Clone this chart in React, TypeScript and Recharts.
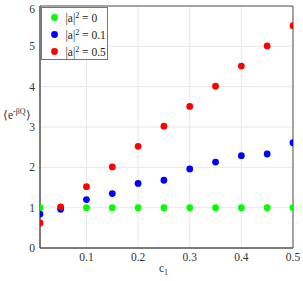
import { ScatterChart, Scatter, XAxis, YAxis, CartesianGrid, ReferenceArea } from "recharts";

const c1 = [0.01, 0.05, 0.1, 0.15, 0.2, 0.25, 0.3, 0.35, 0.4, 0.45, 0.5];
const zeroVals = [1, 1, 1, 1, 1, 1, 1, 1, 1, 1, 1];
const tenthVals = [0.84, 0.96, 1.2, 1.35, 1.6, 1.68, 1.96, 2.13, 2.29, 2.33, 2.61];
const halfVals = [0.62, 1.02, 1.52, 2.01, 2.52, 3.02, 3.51, 4.01, 4.51, 5.01, 5.51];
const xTicks = [0.1, 0.2, 0.3, 0.4, 0.5];
const yTicks = [0, 1, 2, 3, 4, 5, 6];

const series = [
  { name: "0", color: "#00ff00", vals: zeroVals },
  { name: "0.1", color: "#0000ff", vals: tenthVals },
  { name: "0.5", color: "#ff0000", vals: halfVals },
];

const font = "Times New Roman, Liberation Serif, Tinos, serif";

const toPoints = (vals: number[]) => c1.map((x, i) => ({ x, y: vals[i] }));

const Dot = (props: any) => <circle cx={props.cx} cy={props.cy} r={3.4} fill={props.fill} />;

const XTick = (props: any) => (
  <text x={props.x} y={props.y + 11} textAnchor="middle" fontSize={11.5} fill="#333" style={{ fontFamily: font }}>
    {props.payload.value}
  </text>
);

const YTick = (props: any) => (
  <text x={props.x - 3} y={props.y + 4} textAnchor="end" fontSize={11.5} fill="#333" style={{ fontFamily: font }}>
    {props.payload.value}
  </text>
);

export default function App() {
  return (
    <div style={{ position: "absolute", left: 0, top: 0, width: 303, height: 281, background: "#fff", fontFamily: font }}>
      <ScatterChart width={303} height={281} margin={{ top: 6, right: 10, bottom: 0, left: 0 }} style={{ fontFamily: font }}>
        <CartesianGrid stroke="#e8e8e8" />
        <XAxis
          type="number"
          dataKey="x"
          domain={[0.01, 0.5]}
          ticks={xTicks}
          height={33}
          stroke="#555"
          tickSize={0}
          tick={<XTick />}
          allowDataOverflow
        />
        <YAxis
          type="number"
          dataKey="y"
          domain={[0, 6]}
          ticks={yTicks}
          width={40}
          stroke="#555"
          tickSize={0}
          tick={<YTick />}
        />
        <ReferenceArea x1={0.01} x2={0.5} y1={0} y2={6} fill="none" stroke="#555" strokeWidth={1} />
        {series.map((s) => (
          <Scatter
            key={s.name}
            data={toPoints(s.vals)}
            fill={s.color}
            shape={<Dot />}
            isAnimationActive={false}
          />
        ))}
        <g transform="translate(41.5,7.5)">
          <rect x={0} y={0} width={66} height={52} fill="#fff" stroke="#777" />
          {series.map((s, i) => (
            <g key={s.name}>
              <circle cx={13} cy={10 + i * 17} r={3.4} fill={s.color} />
              <text x={24} y={14 + i * 17} fontSize={11.5} fill="#222" style={{ fontFamily: font }}>
                |a|
                <tspan dy={-4} fontSize={8}>2</tspan>
                <tspan dy={4}> = {s.name}</tspan>
              </text>
            </g>
          ))}
        </g>
        <text x={3} y={119} fontSize={11.5} fill="#333" style={{ fontFamily: font }}>
          ⟨e<tspan dy={-5} fontSize={8}>-βQ</tspan><tspan dy={5}>⟩</tspan>
        </text>
        <text x={159} y={272} fontSize={11.5} fill="#333" style={{ fontFamily: font }}>
          c<tspan dy={3} fontSize={8}>1</tspan>
        </text>
      </ScatterChart>
    </div>
  );
}
